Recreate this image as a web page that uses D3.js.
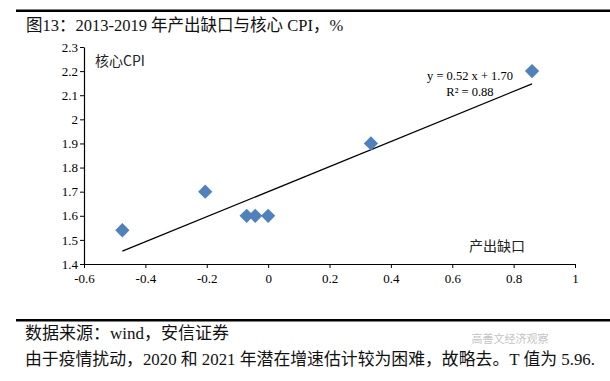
<!DOCTYPE html>
<html><head><meta charset="utf-8">
<script src="https://cdn.jsdelivr.net/npm/d3@7"></script>
<style>body{margin:0;background:#fff;}svg{display:block;}</style>
</head><body>
<script>
const xValues = [-0.475, -0.205, -0.07, -0.042, 0.0, 0.335, 0.86];
const yValues = [1.54, 1.70, 1.60, 1.60, 1.60, 1.90, 2.20];
const xTicks = [-0.6, -0.4, -0.2, 0, 0.2, 0.4, 0.6, 0.8, 1];
const yTicks = [1.4, 1.5, 1.6, 1.7, 1.8, 1.9, 2, 2.1, 2.2, 2.3];
const slope = 0.52, intercept = 1.70;
const title = "图13：2013-2019 年产出缺口与核心 CPI，%";
const yLabel = "核心CPI", xLabel = "产出缺口";
const eqText = "y = 0.52  x + 1.70", r2Text = "R² = 0.88";
const source = "数据来源：wind，安信证券";
const note = "由于疫情扰动，2020 和 2021 年潜在增速估计较为困难，故略去。T 值为 5.96.";
const watermark = "高善文经济观察";

const W = 610, H = 381;
const svg = d3.select("body").append("svg").attr("width", W).attr("height", H);
const serif = "'Liberation Serif','Times New Roman','Noto Sans CJK SC',serif";
const cjk = "'Noto Sans CJK SC',sans-serif";
const fmt = d => String(+d.toFixed(1));

svg.append("rect").attr("x",16).attr("y",9.5).attr("width",594).attr("height",2.5).attr("fill","#000");
svg.append("text").attr("x",26).attr("y",31).attr("font-family",serif).attr("font-size",16.5).attr("fill","#111").text(title);

const x = d3.scaleLinear().domain([-0.6, 1]).range([84, 575]);
const y = d3.scaleLinear().domain([1.4, 2.3]).range([264, 47]);

const gx = svg.append("g").attr("transform","translate(0,264)")
  .call(d3.axisBottom(x).tickValues(xTicks).tickSize(4).tickSizeOuter(0).tickFormat(fmt));
const gy = svg.append("g").attr("transform","translate(84,0)")
  .call(d3.axisLeft(y).tickValues(yTicks).tickSize(4).tickSizeOuter(0).tickFormat(fmt));
[gx, gy].forEach(g=>{
  g.select(".domain").attr("stroke","#000").attr("stroke-width",1.2);
  g.selectAll(".tick line").attr("stroke","#000");
  g.selectAll(".tick text").attr("font-family",serif).attr("font-size",13).attr("fill","#000");
});
gx.selectAll(".tick text").attr("dy","0.9em");
gy.selectAll(".tick text").attr("x",-6);

const x0 = d3.min(xValues), x1 = d3.max(xValues);
svg.append("line").attr("x1",x(x0)).attr("y1",y(slope*x0+intercept))
  .attr("x2",x(x1)).attr("y2",y(slope*x1+intercept)).attr("stroke","#000").attr("stroke-width",1.3);

svg.selectAll("path.pt").data(xValues).enter().append("path").attr("class","pt")
  .attr("d", d3.symbol().type(d3.symbolDiamond2).size(130))
  .attr("transform",(d,i)=>`translate(${x(d)},${y(yValues[i])})`)
  .attr("fill","#4F81BD");

svg.append("text").attr("x",95).attr("y",66).attr("font-family",cjk).attr("font-size",14).attr("fill","#222").text(yLabel);
svg.append("text").attr("x",469).attr("y",251).attr("font-family",cjk).attr("font-size",14).attr("fill","#222").text(xLabel);
svg.append("text").attr("x",470).attr("y",80).attr("text-anchor","middle").attr("font-family",serif).attr("font-size",12.5).attr("fill","#000").text(eqText);
svg.append("text").attr("x",470).attr("y",96).attr("text-anchor","middle").attr("font-family",serif).attr("font-size",12.5).attr("fill","#000").text(r2Text);

svg.append("rect").attr("x",16).attr("y",319).attr("width",594).attr("height",2.5).attr("fill","#000");
svg.append("text").attr("x",25).attr("y",339).attr("font-family",serif).attr("font-size",17).attr("fill","#111").text(source);
svg.append("text").attr("x",25).attr("y",365).attr("font-family",serif).attr("font-size",17).attr("fill","#111")
  .attr("textLength",570).attr("lengthAdjust","spacingAndGlyphs").text(note);
svg.append("text").attr("x",510).attr("y",343).attr("text-anchor","middle").attr("font-family",cjk).attr("font-size",11).attr("fill","#aaa").attr("opacity",0.7).text(watermark);
</script>
</body></html>
